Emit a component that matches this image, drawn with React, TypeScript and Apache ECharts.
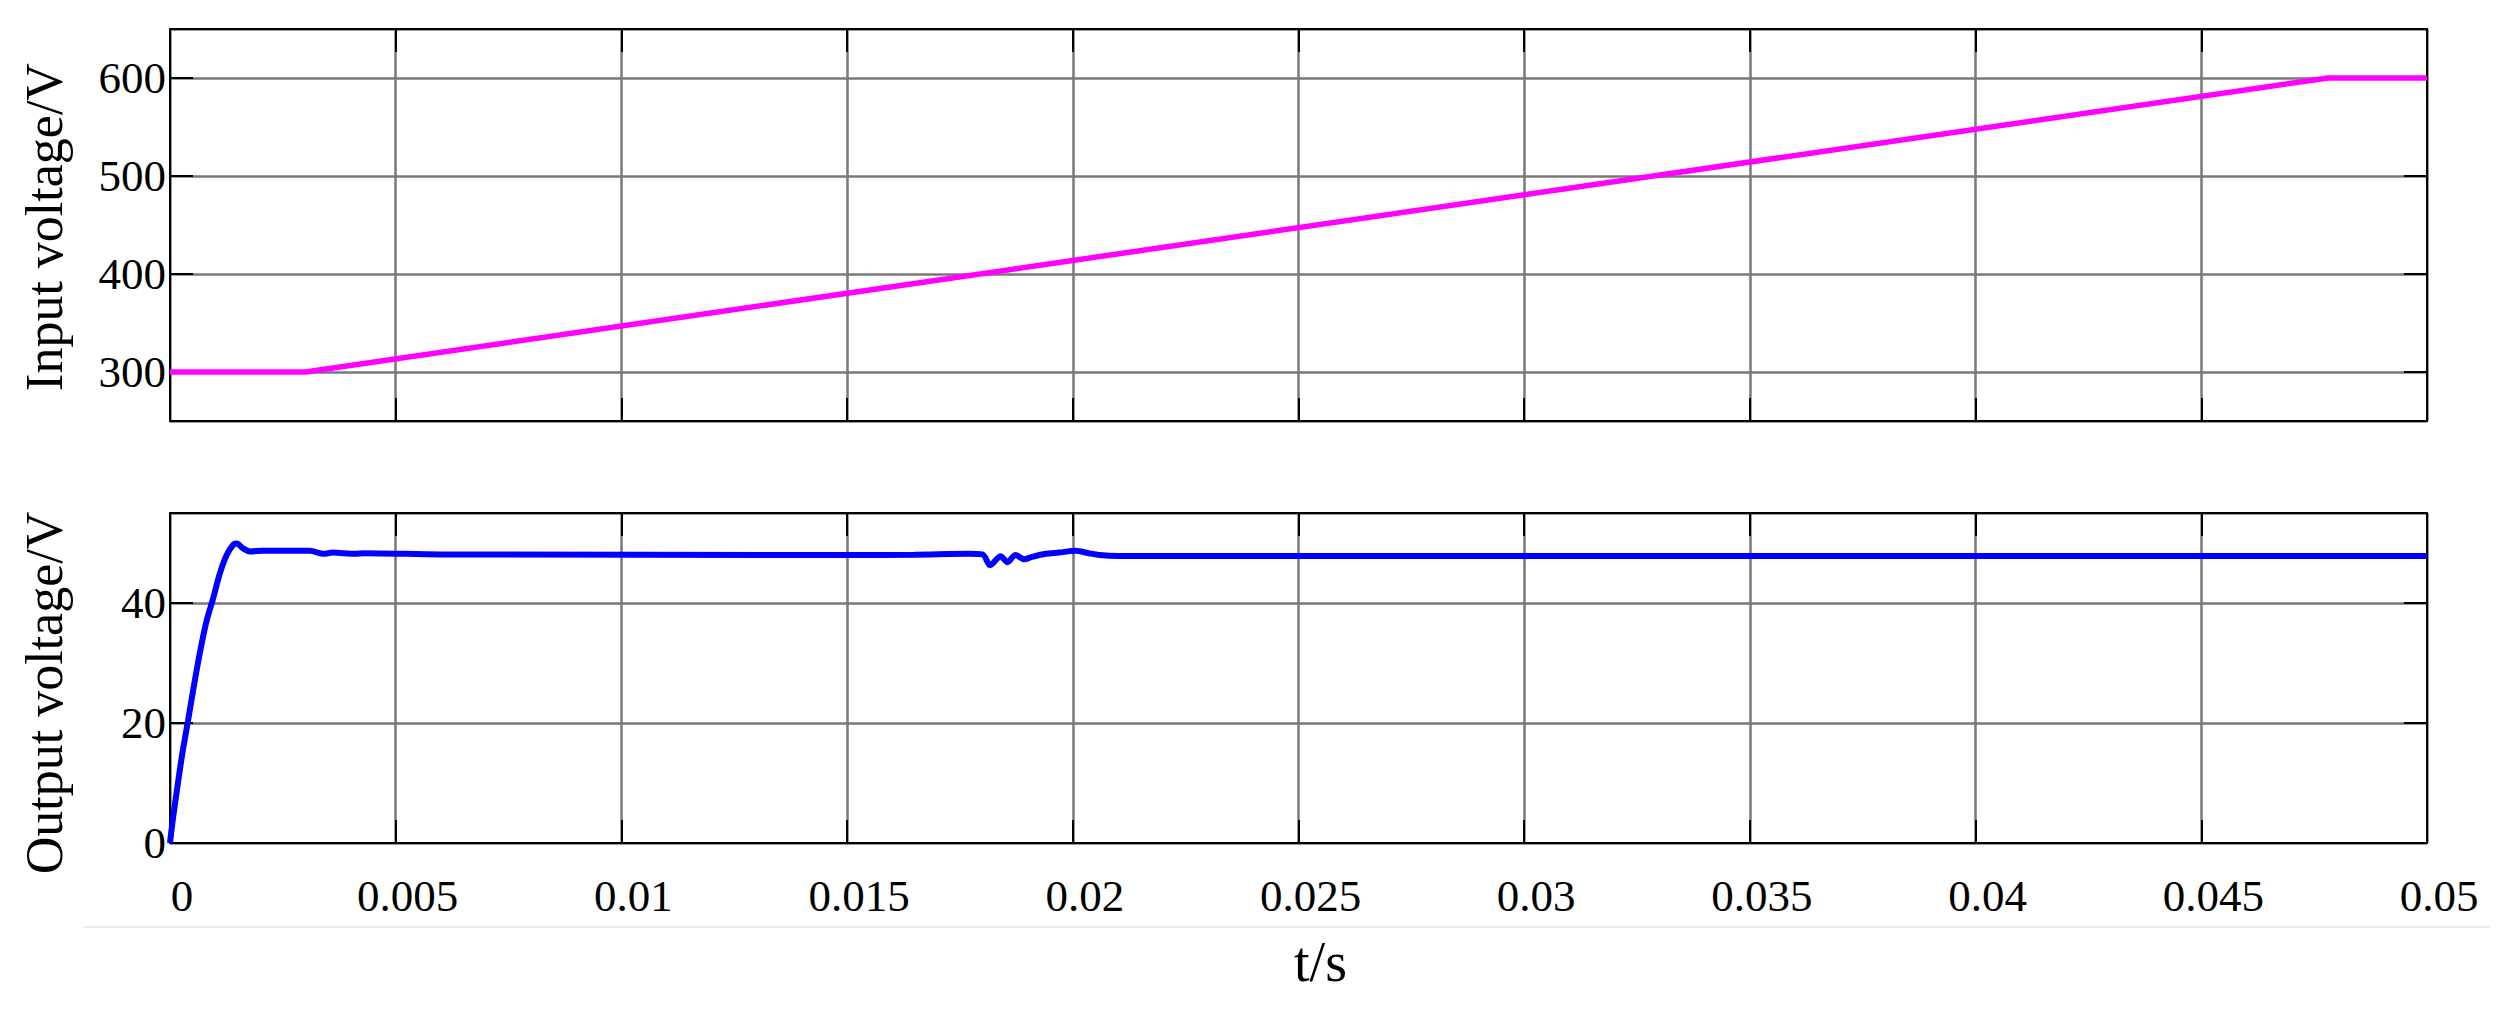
import React, { useEffect, useRef } from "react";
import * as echarts from "echarts";

// Input voltage (top panel): time in s, voltage in V
const inputTime = [0, 0.003, 0.0478, 0.05];
const inputVolt = [300, 300, 600, 600];

// Output voltage (bottom panel)
const outputTime = [
  0, 0.00007, 0.00026, 0.0004, 0.00055, 0.0007, 0.00082, 0.00095, 0.0011, 0.00125,
  0.0014, 0.00148, 0.00162, 0.00177, 0.00206, 0.0031, 0.0034, 0.0036, 0.0041, 0.0043,
  0.006, 0.015, 0.0165, 0.0177, 0.018, 0.01817, 0.0184, 0.01855, 0.01873, 0.01892,
  0.0191, 0.0194, 0.01969, 0.02006, 0.02035, 0.0206, 0.021, 0.05,
];
const outputVolt = [
  0, 4.3, 14.3, 20.4, 27.1, 33.2, 37.3, 40.6, 44.8, 47.9,
  49.7, 49.9, 49.1, 48.6, 48.7, 48.7, 48.2, 48.4, 48.2, 48.3,
  48.1, 48.0, 48.05, 48.2, 48.1, 46.3, 47.8, 46.8, 48.0, 47.3,
  47.7, 48.2, 48.4, 48.7, 48.3, 48.0, 47.85, 47.85,
];

const xTicks = { min: 0, max: 0.05, interval: 0.005 };
const inputAxis = { min: 250, max: 650, splitNumber: 4 };
const outputAxis = { min: 0, max: 55, interval: 20 };

const FONT = "Liberation Serif";

export default function App() {
  const ref = useRef<HTMLDivElement>(null);

  useEffect(() => {
    if (!ref.current) return;
    const chart = echarts.init(ref.current, null, { renderer: "svg" });

    const frameLine = { show: true, onZero: false, lineStyle: { color: "#000", width: 2 } };
    const tick = { show: true, inside: true, length: 23, lineStyle: { color: "#000", width: 2 } };
    const grid = { show: true, lineStyle: { color: "#787878", width: 2.5 } };
    const noLabel = { show: false };

    const xBase = (gridIndex: number, position: string) => ({
      type: "value",
      gridIndex,
      position,
      min: xTicks.min,
      max: xTicks.max,
      interval: xTicks.interval,
      axisLine: frameLine,
      axisTick: tick,
      axisLabel: noLabel,
      splitLine: { show: false },
    });

    const yBase = (gridIndex: number, position: string, ax: any) => ({
      type: "value",
      gridIndex,
      position,
      ...ax,
      axisLine: frameLine,
      axisTick: tick,
      axisLabel: noLabel,
      splitLine: { show: false },
    });

    const yLabel = {
      show: true,
      fontFamily: FONT,
      fontSize: 45,
      color: "#000",
      margin: 4,
      padding: [10, 0, 0, 0],
      showMinLabel: false,
      showMaxLabel: false,
    };

    chart.setOption({
      animation: false,
      backgroundColor: "#fff",
      grid: [
        { left: 170, right: 87, top: 29, height: 392 },
        { left: 170, right: 87, top: 513, height: 330 },
      ],
      xAxis: [
        { ...xBase(0, "bottom"), splitLine: grid },
        xBase(0, "top"),
        {
          ...xBase(1, "bottom"),
          splitLine: grid,
          axisLabel: {
            show: true,
            fontFamily: FONT,
            fontSize: 45,
            color: "#000",
            margin: 30,
            padding: [0, 0, 0, 24],
          },
          name: "t/s",
          nameLocation: "middle",
          nameGap: 91,
          nameTextStyle: {
            fontFamily: FONT,
            fontSize: 56,
            color: "#000",
            padding: [0, 0, 0, 44],
          },
        },
        xBase(1, "top"),
      ],
      yAxis: [
        {
          ...yBase(0, "left", inputAxis),
          splitLine: grid,
          axisLabel: { ...yLabel, showMinLabel: false },
          name: "Input voltage/V",
          nameLocation: "middle",
          nameGap: 100,
          nameTextStyle: { fontFamily: FONT, fontSize: 52, color: "#000", padding: [0, 4, 0, 0] },
        },
        yBase(0, "right", inputAxis),
        {
          ...yBase(1, "left", outputAxis),
          splitLine: grid,
          axisLabel: { ...yLabel, showMinLabel: true },
          name: "Output voltage/V",
          nameLocation: "middle",
          nameGap: 100,
          nameTextStyle: { fontFamily: FONT, fontSize: 52, color: "#000", padding: [0, 30, 0, 0] },
        },
        yBase(1, "right", outputAxis),
      ],
      graphic: [
        {
          type: "line",
          shape: { x1: 84, y1: 927, x2: 2490, y2: 927 },
          style: { stroke: "#ececec", lineWidth: 2 },
          silent: true,
        },
      ],
      series: [
        {
          type: "line",
          xAxisIndex: 0,
          yAxisIndex: 0,
          data: inputTime.map((t, i) => [t, inputVolt[i]]),
          showSymbol: false,
          lineStyle: { color: "#ff00ff", width: 5.5 },
          z: 5,
        },
        {
          type: "line",
          xAxisIndex: 2,
          yAxisIndex: 2,
          data: outputTime.map((t, i) => [t, outputVolt[i]]),
          showSymbol: false,
          smooth: 0.3,
          lineStyle: { color: "#0000ff", width: 6 },
          z: 5,
        },
      ],
    });

    return () => chart.dispose();
  }, []);

  return (
    <div
      ref={ref}
      style={{ position: "fixed", left: 0, top: 0, width: "2514px", height: "1012px", background: "#fff" }}
    />
  );
}
